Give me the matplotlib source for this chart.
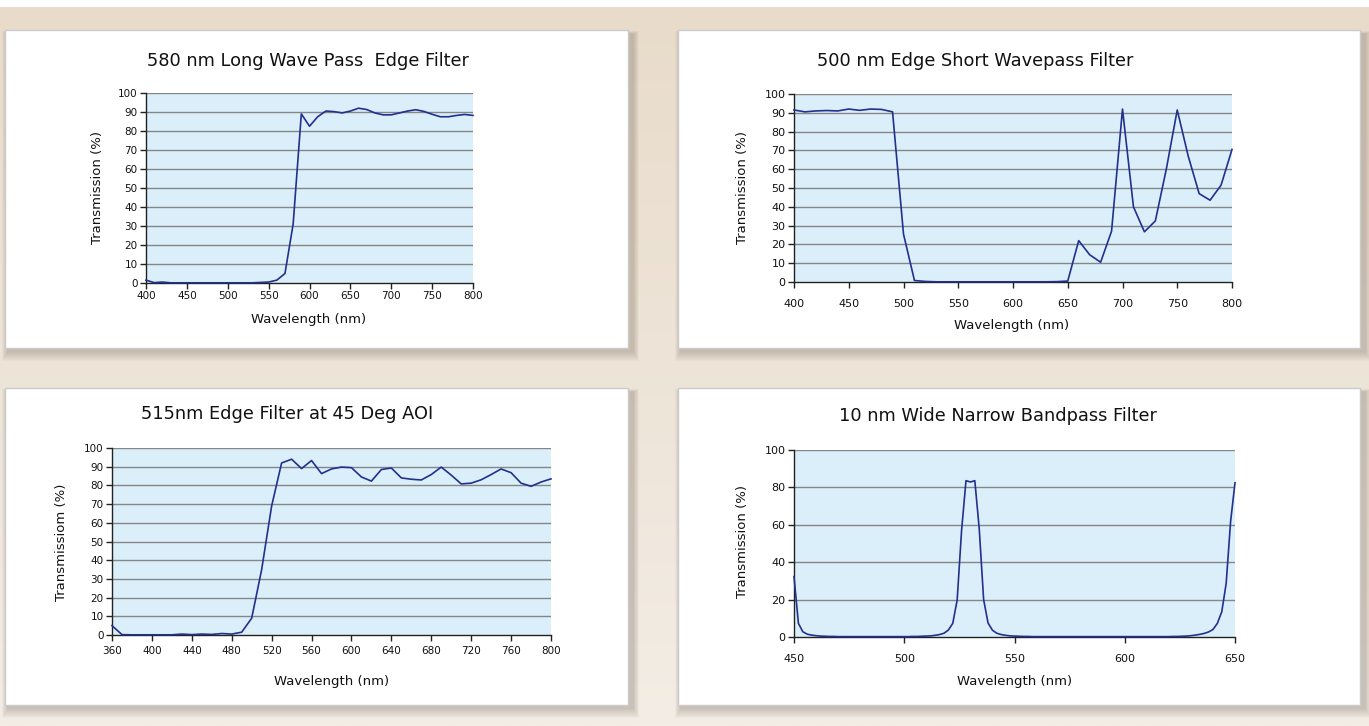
import numpy as np
import matplotlib
matplotlib.use("Agg")
import matplotlib.pyplot as plt
from matplotlib.patches import Rectangle

plt.rcParams['font.family'] = ['DejaVu Sans']

# ---------------- data ----------------
wl1 = [400, 410, 420, 430, 440, 450, 460, 470, 480, 490, 500, 510, 520, 530, 540,
       550, 560, 570, 580, 590, 600, 610, 620, 630, 640, 650, 660, 670, 680, 690,
       700, 710, 720, 730, 740, 750, 760, 770, 780, 790, 800]
tr1 = [1.5, 0.2, 0.5, 0.1, 0.1, 0.1, 0.1, 0.1, 0.1, 0.1, 0.1, 0.1, 0.1, 0.1, 0.3,
       0.5, 1.5, 5.0, 31.0, 89.0, 82.5, 87.5, 90.5, 90.2, 89.5, 90.5, 92.0, 91.3, 89.5, 88.5,
       88.5, 89.5, 90.5, 91.2, 90.3, 88.8, 87.5, 87.5, 88.2, 88.7, 88.2]

wl2 = [400, 410, 420, 430, 440, 450, 460, 470, 480, 490, 500, 510, 520, 530, 540,
       550, 560, 570, 580, 590, 600, 610, 620, 630, 640, 650, 660, 670, 680, 690,
       700, 710, 720, 730, 740, 750, 760, 770, 780, 790, 800]
tr2 = [91.5, 90.5, 91.0, 91.2, 91.0, 92.0, 91.3, 92.0, 91.8, 90.5, 25.5, 0.8, 0.3, 0.1, 0.1,
       0.1, 0.1, 0.1, 0.1, 0.1, 0.1, 0.1, 0.1, 0.1, 0.2, 0.5, 22.0, 14.5, 10.5, 27.0,
       92.0, 40.0, 26.7, 32.5, 60.0, 91.5, 67.0, 47.0, 43.5, 51.5, 70.5]

wl3 = [360, 370, 380, 390, 400, 410, 420, 430, 440, 450, 460, 470, 480, 490, 500,
       510, 520, 530, 540, 550, 560, 570, 580, 590, 600, 610, 620, 630, 640, 650,
       660, 670, 680, 690, 700, 710, 720, 730, 740, 750, 760, 770, 780, 790, 800]
tr3 = [5.0, 0.2, 0.1, 0.1, 0.1, 0.1, 0.1, 0.5, 0.2, 0.5, 0.3, 0.8, 0.5, 1.5, 9.0,
       35.0, 69.0, 92.0, 94.0, 89.0, 93.3, 86.3, 88.8, 89.8, 89.5, 84.5, 82.3, 88.5, 89.3, 84.0,
       83.3, 82.9, 85.8, 89.8, 85.5, 80.8, 81.2, 83.0, 85.8, 88.8, 86.8, 81.2, 79.5, 81.8, 83.5]

wl4 = [450, 452, 454, 456, 458, 460, 462, 464, 466, 468, 470, 472, 474, 476, 478,
       480, 482, 484, 486, 488, 490, 492, 494, 496, 498, 500, 502, 504, 506, 508,
       510, 512, 514, 516, 518, 520, 522, 524, 526, 528, 530, 532, 534, 536, 538,
       540, 542, 544, 546, 548, 550, 552, 554, 556, 558, 560, 562, 564, 566, 568,
       570, 572, 574, 576, 578, 580, 582, 584, 586, 588, 590, 592, 594, 596, 598,
       600, 602, 604, 606, 608, 610, 612, 614, 616, 618, 620, 622, 624, 626, 628,
       630, 632, 634, 636, 638, 640, 642, 644, 646, 648, 650]
tr4 = [32.3, 7.3, 2.8, 1.5, 1.0, 0.7, 0.5, 0.4, 0.3, 0.3, 0.2, 0.2, 0.2, 0.2, 0.2,
       0.2, 0.2, 0.2, 0.2, 0.2, 0.2, 0.2, 0.2, 0.2, 0.2, 0.2, 0.2, 0.3, 0.3, 0.4,
       0.5, 0.6, 0.9, 1.3, 2.0, 3.7, 7.3, 19.8, 57.0, 83.6, 82.9, 83.6, 58.0, 20.0, 7.5,
       3.6, 2.0, 1.3, 0.9, 0.6, 0.5, 0.4, 0.3, 0.3, 0.2, 0.2, 0.2, 0.2, 0.2, 0.2,
       0.2, 0.2, 0.2, 0.2, 0.2, 0.2, 0.2, 0.2, 0.2, 0.2, 0.2, 0.2, 0.2, 0.2, 0.2,
       0.2, 0.2, 0.2, 0.2, 0.2, 0.2, 0.2, 0.2, 0.2, 0.2, 0.2, 0.3, 0.3, 0.4, 0.5,
       0.7, 1.0, 1.4, 1.9, 2.7, 4.0, 7.3, 13.5, 28.7, 61.7, 82.5]

titles = ["580 nm Long Wave Pass  Edge Filter", "500 nm Edge Short Wavepass Filter",
          "515nm Edge Filter at 45 Deg AOI", "10 nm Wide Narrow Bandpass Filter"]
ylabels = ["Transmission (%)", "Transmission (%)", "Transmissiom (%)", "Transmission (%)"]
xlabel = "Wavelength (nm)"
xticks1 = [400, 450, 500, 550, 600, 650, 700, 750, 800]
xticks3 = [360, 400, 440, 480, 520, 560, 600, 640, 680, 720, 760, 800]
xticks4 = [450, 500, 550, 600, 650]
yticks10 = [0, 10, 20, 30, 40, 50, 60, 70, 80, 90, 100]
yticks20 = [0, 20, 40, 60, 80, 100]

# ---------------- layout helpers ----------------
W, H = 1369, 726
fig = plt.figure(figsize=(W / 100, H / 100), dpi=100)

def fx(x):
    return x / W

def fy(y):
    return 1 - y / H

# background gradient
bg = fig.add_axes([0, 0, 1, 1], zorder=-10)
grad = np.linspace(0, 1, 256).reshape(-1, 1)
top = np.array([0xe8, 0xdb, 0xca]) / 255
bot = np.array([0xf3, 0xed, 0xe5]) / 255
img = top[None, None, :] * (1 - grad[:, :, None]) + bot[None, None, :] * grad[:, :, None]
bg.imshow(img, aspect='auto', extent=[0, 1, 0, 1], origin='upper')
bg.add_patch(Rectangle((0, fy(7)), 1, 1 - fy(7), color='white', lw=0))
bg.set_xlim(0, 1)
bg.set_ylim(0, 1)
bg.axis('off')

panels = [(5, 30, 628, 348), (678, 30, 1360, 348), (5, 388, 628, 705), (678, 388, 1360, 705)]
for (x0, y0, x1, y1) in panels:
    for k in range(10, 0, -1):
        bg.add_patch(Rectangle((fx(x0 + 3 - k * 0.6), fy(y1 + 3 + k)),
                               fx(x1 - x0 + k * 1.2 + 2), fy(y0 + 4 - k * 0.3) - fy(y1 + 3 + k),
                               color='#7a6c5e', alpha=0.035, lw=0))
    bg.add_patch(Rectangle((fx(x0), fy(y1)), fx(x1 - x0), fy(y0) - fy(y1),
                           facecolor='white', edgecolor='#c9cbce', lw=1))

line_color = '#22308e'
grid_color = '#868686'

def make_ax(l, t, r, b, wl, tr, xlim, xticks, yticks, tick_fs):
    ax = fig.add_axes([fx(l), fy(b), fx(r - l), fy(t) - fy(b)])
    ax.set_facecolor('#dbeffa')
    ax.plot(wl, tr, color=line_color, lw=1.2, zorder=3, clip_on=False)
    ax.set_xlim(*xlim)
    ax.set_ylim(0, 100)
    ax.set_xticks(xticks)
    ax.set_yticks(yticks)
    for yv in yticks[1:]:
        ax.axhline(yv, color=grid_color, lw=1.0, zorder=1)
    for s in ['top', 'right']:
        ax.spines[s].set_visible(False)
    for s in ['left', 'bottom']:
        ax.spines[s].set_color('#222222')
        ax.spines[s].set_linewidth(1.0)
    ax.tick_params(direction='out', length=4, width=1.0, color='#222222',
                   labelsize=tick_fs, labelcolor='#111111', pad=2)
    return ax

ax1 = make_ax(146, 93, 473, 283, wl1, tr1, (400, 800), xticks1, yticks10, 7.5)
ax2 = make_ax(794, 94, 1232, 282, wl2, tr2, (400, 800), xticks1, yticks10, 8)
ax2.tick_params(axis='x', pad=8)
ax3 = make_ax(112, 448, 551, 635, wl3, tr3, (360, 800), xticks3, yticks10, 7.5)
ax3.tick_params(axis='x', pad=4)
ax4 = make_ax(794, 450, 1235, 637, wl4, tr4, (450, 650), xticks4, yticks20, 8)
ax4.tick_params(axis='x', pad=8)

# titles
title_pos = [(308, 61), (975, 61), (287, 414), (998, 416)]
for (x, y), t in zip(title_pos, titles):
    fig.text(fx(x), fy(y), t, ha='center', va='center', fontsize=12.8, color='#111111')

# y labels
ylab_pos = [(98, 188), (743, 188), (62, 542), (743, 542)]
for (x, y), t in zip(ylab_pos, ylabels):
    fig.text(fx(x), fy(y), t, ha='center', va='center', rotation=90, fontsize=9.5,
             color='#111111')

# x labels
xlab_pos = [(309, 319), (1012, 326), (332, 681), (1015, 681)]
for (x, y) in xlab_pos:
    fig.text(fx(x), fy(y), xlabel, ha='center', va='center', fontsize=9.5, color='#111111')

fig.savefig('out.png', dpi=100)
